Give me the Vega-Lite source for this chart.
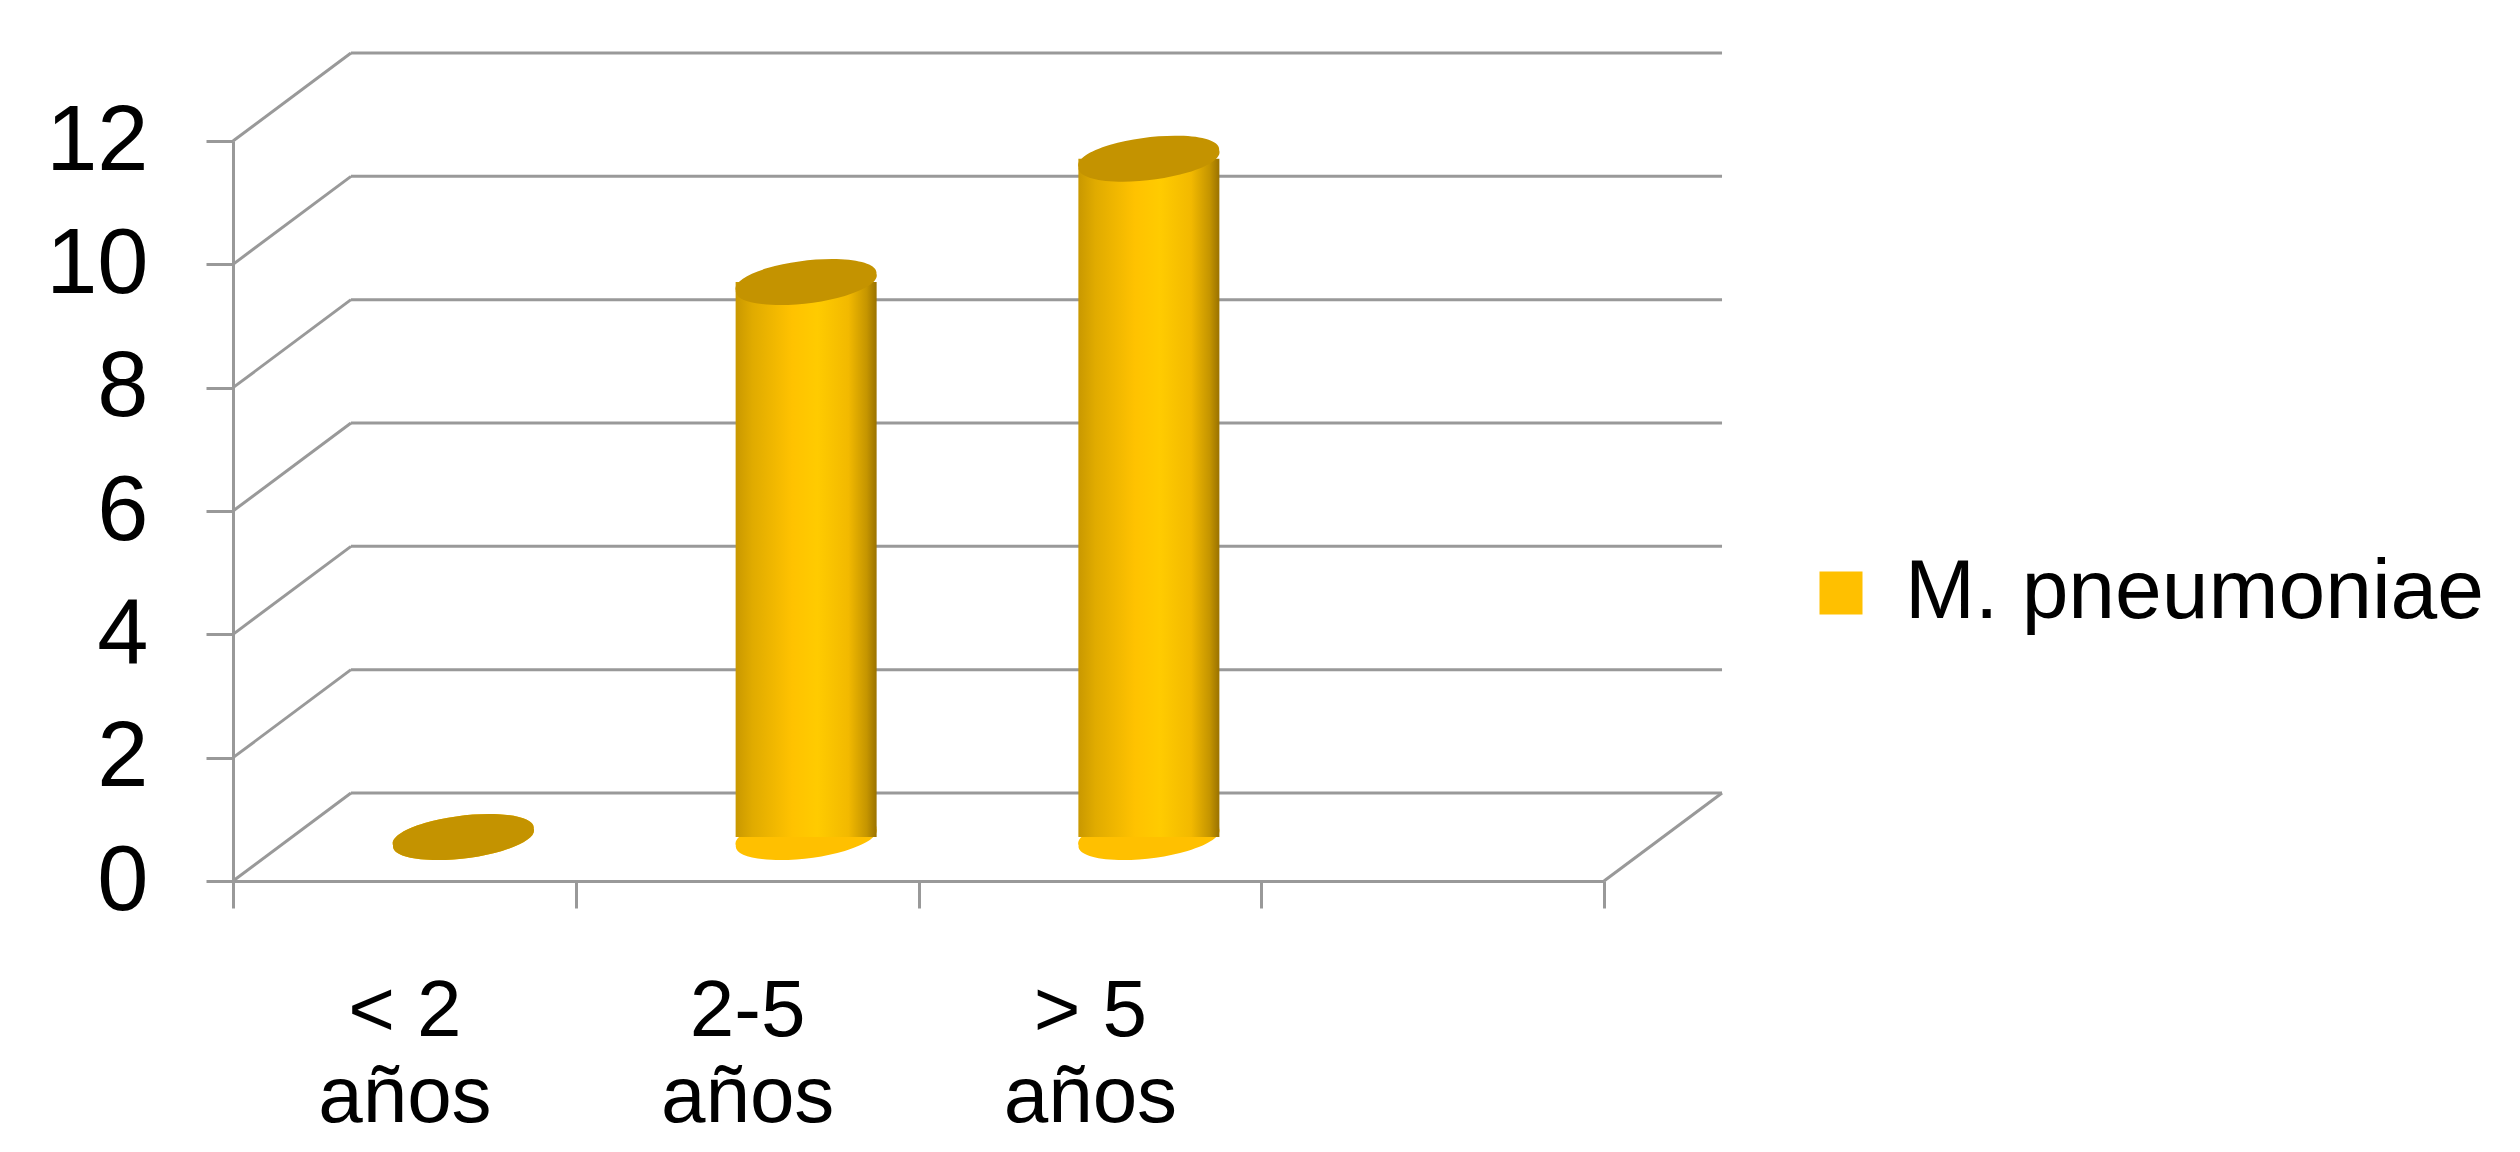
{
  "$schema": "https://vega.github.io/schema/vega-lite/v6.json",
  "width": 1371,
  "height": 740,
  "autosize": {"type": "none"},
  "padding": {"left": 233, "top": 141, "right": 916, "bottom": 271},
  "background": "white",
  "config": {
    "view": {"stroke": null},
    "font": "Liberation Sans",
    "axis": {"labelColor": "#000000", "labelFont": "Liberation Sans", "domainColor": "#999999", "tickColor": "#999999", "domainWidth": 3, "tickWidth": 3, "grid": false}
  },
  "datasets": {
    "bars": [
      {"edad": "< 2 años", "casos": 0, "serie": "M. pneumoniae"},
      {"edad": "2-5 años", "casos": 9, "serie": "M. pneumoniae"},
      {"edad": "> 5 años", "casos": 11, "serie": "M. pneumoniae"}
    ],
    "grid": [{"v": 0}, {"v": 2}, {"v": 4}, {"v": 6}, {"v": 8}, {"v": 10}, {"v": 12}]
  },
  "layer": [
    {
      "data": {"name": "grid"},
      "mark": {"type": "rule", "color": "#999999", "strokeWidth": 3, "xOffset": 118, "x2Offset": 289.4, "yOffset": -88},
      "encoding": {
        "x": {"datum": "< 2 años", "bandPosition": 0, "type": "nominal",
          "scale": {"type": "band", "domain": ["< 2 años", "2-5 años", "> 5 años", "vacío"], "paddingInner": 0, "paddingOuter": 0}},
        "x2": {"datum": "vacío"},
        "y": {"field": "v", "type": "quantitative", "scale": {"domain": [0, 12], "nice": false},
          "axis": {"title": null, "values": [0, 2, 4, 6, 8, 10, 12], "format": "d", "tickSize": 27, "labelFontSize": 92, "labelPadding": 58}}
      }
    },
    {
      "data": {"name": "grid"},
      "mark": {"type": "rule", "color": "#999999", "strokeWidth": 3, "x2Offset": -53.4, "y2Offset": -88},
      "encoding": {
        "x": {"datum": "< 2 años", "bandPosition": 0, "type": "nominal"},
        "x2": {"datum": "< 2 años"},
        "y": {"field": "v", "type": "quantitative", "axis": {"title": null}},
        "y2": {"field": "v"}
      }
    },
    {
      "data": {"values": [{"v": 0}]},
      "mark": {"type": "rule", "color": "#999999", "strokeWidth": 3, "x2Offset": 289.4, "y2Offset": -88},
      "encoding": {
        "x": {"datum": "vacío", "bandPosition": 1, "type": "nominal"},
        "x2": {"datum": "vacío"},
        "y": {"field": "v", "type": "quantitative", "axis": {"title": null}},
        "y2": {"field": "v"}
      }
    },
    {
      "data": {"name": "bars"},
      "mark": {"type": "point", "filled": true, "opacity": 1, "strokeWidth": 0, "size": 20164, "xOffset": 59, "yOffset": -44,
        "shape": "M -0.99 0.12 A 1 0.28 -7 1 1 0.99 -0.12 A 1 0.28 -7 1 1 -0.99 0.12 Z"},
      "encoding": {
        "x": {"field": "edad", "type": "nominal", "axis": {"title": null}},
        "y": {"datum": 0, "type": "quantitative", "axis": {"title": null}},
        "color": {"field": "serie", "type": "nominal", "scale": {"range": ["#FFC000"]},
          "legend": {"title": null, "orient": "none", "legendX": 1566, "legendY": 410, "symbolType": "square", "symbolSize": 1850, "symbolStrokeWidth": 0,
            "labelFontSize": 84, "labelFont": "Liberation Sans", "labelColor": "#000000", "labelOffset": 22, "labelLimit": 0, "padding": 0}}
      }
    },
    {
      "data": {"name": "bars"},
      "mark": {"type": "bar", "width": 141, "xOffset": 59, "yOffset": -44, "y2Offset": -44,
        "fill": {"gradient": "linear", "x1": 0, "x2": 1, "y1": 0, "y2": 0, "stops": [
          {"offset": 0, "color": "#C99800"},
          {"offset": 0.12, "color": "#E0AB00"},
          {"offset": 0.4, "color": "#FFC200"},
          {"offset": 0.58, "color": "#FFCB00"},
          {"offset": 0.8, "color": "#F2B900"},
          {"offset": 0.93, "color": "#C59500"},
          {"offset": 1, "color": "#9A7200"}
        ]}},
      "encoding": {
        "x": {"field": "edad", "type": "nominal",
          "axis": {"title": null, "tickBand": "extent", "tickSize": 27, "labelFontSize": 80, "labelLineHeight": 86, "labelPadding": 64, "labelBaseline": "top", "labelAngle": 0, "labelAlign": "center",
            "labelExpr": "(datum.value == 'vacío' || !datum.value) ? '' : [replace(datum.value, ' años', ''), 'años']"}},
        "y": {"field": "casos", "type": "quantitative", "axis": {"title": null}}
      }
    },
    {
      "data": {"name": "bars"},
      "mark": {"type": "point", "filled": true, "opacity": 1, "strokeWidth": 0, "size": 20164, "xOffset": 59, "yOffset": -44, "color": "#C49300",
        "shape": "M -0.99 0.12 A 1 0.28 -7 1 1 0.99 -0.12 A 1 0.28 -7 1 1 -0.99 0.12 Z"},
      "encoding": {
        "x": {"field": "edad", "type": "nominal", "axis": {"title": null}},
        "y": {"field": "casos", "type": "quantitative", "axis": {"title": null}}
      }
    }
  ]
}
